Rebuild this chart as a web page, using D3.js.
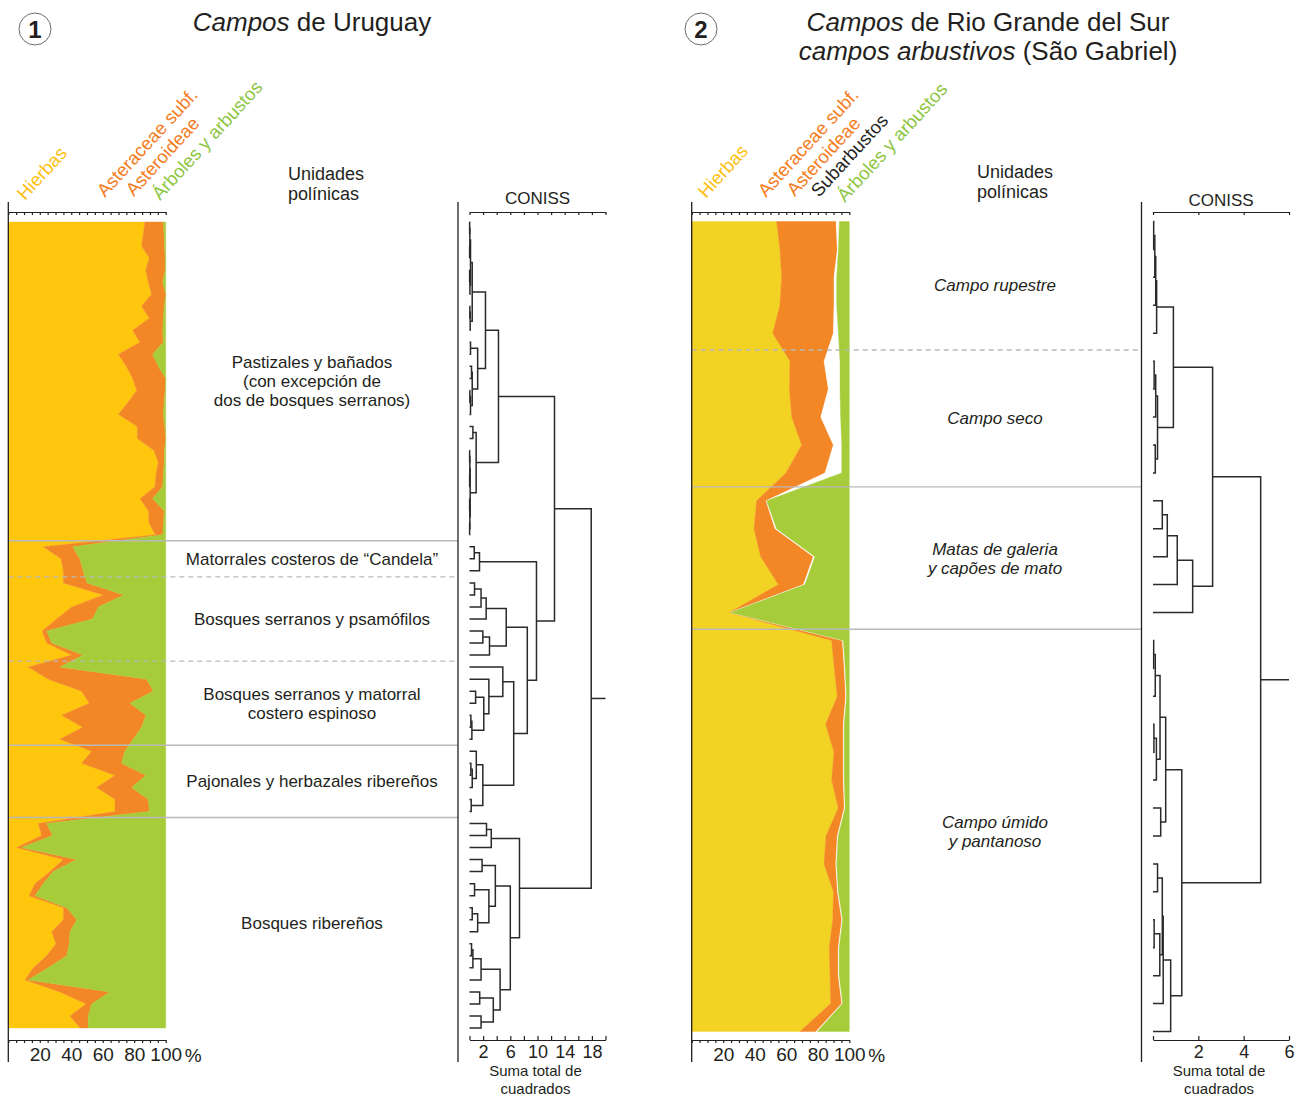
<!DOCTYPE html>
<html>
<head>
<meta charset="utf-8">
<script src="https://cdn.jsdelivr.net/npm/d3@7/dist/d3.min.js"></script>
<style>
html,body{margin:0;padding:0;background:#fff;}
svg text{font-family:"Liberation Sans",Arial,Helvetica,sans-serif;fill:#231f20;}
</style>
</head>
<body>
<svg id="chart" width="1304" height="1096"></svg>
<script>
// ================= DATA =================
// Panel 1 – Campos de Uruguay : 68 samples (top -> bottom), percentages
const uyHierbas = [86.8,85.8,84.7,89.6,87.3,89.0,91.0,84.7,89.6,79.0,83.7,70.0,75.0,79.0,81.6,76.0,70.0,82.0,82.0,92.6,95.3,93.8,93.2,83.7,89.0,89.4,93.4,
  22.3,33.5,35.0, 35.0,60.4,40.3,30.7,21.5,24.4,40.3, 12.7,25.4,46.6,51.5,33.9,47.3,32.8, 53.0,46.6,67.8,56.2,67.8,67.8,
  19.1,21.2,5.3,35.0,26.5,17.0,13.3,35.0,35.0,27.6,30.3,24.4,15.9,10.6,32.8,49.4,39.2,45.6];
const uyAsteroideae = [11.7,13.1,14.6,10.0,12.3,9.1,9.0,14.3,8.9,19.1,14.8,21.7,20.3,21.0,18.0,23.0,28.5,17.4,18.0,6.6,3.7,4.7,4.9,8.0,10.0,9.3,4.7,
  18.6,12.0,12.6, 15.0,13.1,16.9,22.9,2.9,3.2,7.3, 20.1,62.5,45.5,25.8,53.6,37.4,46.6, 21.1,25.4,19.7,22.2,21.2,21.8,
  5.3,7.0,3.2,8.5,2.1,5.2,3.7,2.1,8.5,11.6,8.5,12.7,9.5,2.1,31.8,3.6,11.6,5.2];
const uyArboles = [1.5,1.1,0.7,0.4,0.4,1.9,0.0,1.0,1.5,1.9,1.5,8.3,4.7,0.0,0.4,1.0,1.5,0.6,0.0,0.8,1.0,1.5,1.9,8.3,1.0,1.3,1.9,
  59.1,54.5,52.4, 50.0,26.5,42.8,46.4,75.6,72.4,52.4, 67.2,12.1,7.9,22.7,12.5,15.3,20.6, 25.9,28.0,12.5,21.6,11.0,10.4,
  75.6,71.8,91.5,56.5,71.4,77.8,83.0,62.9,56.5,60.8,61.2,62.9,74.6,87.3,35.4,47.0,49.2,49.2];
const uyZoneLabels = [
  ["Pastizales y bañados","(con excepción de","dos de bosques serranos)"],
  ["Matorrales costeros de “Candela”"],
  ["Bosques serranos y psamófilos"],
  ["Bosques serranos y matorral","costero espinoso"],
  ["Pajonales y herbazales ribereños"],
  ["Bosques ribereños"]
];
const uyBreaks = [26.5, 29.5, 36.5, 43.5, 49.5];          // sample positions of zone limits
const uyBreakDashed = [false, true, true, false, false];
// CONISS tree: [height, left, right]; leaves = sample index
const uyConiss = [17.9,
  [12.5,
    [4.26,
      [2.35,
        [0.4, [0.15, [0.05, [0.02, 0, 1], [0.02, 2, 3]], [0.06, [0.02, 4, 5], 6]], [0.1, [0.05, 7, 8], 9]],
        [1.2, [0.15, 10, 11], [0.4, [0.3, 12, 13], [0.15, [0.05, 14, 15], 16]]]
      ],
      [0.98, [0.5, 17, 18], [0.1, [0.05, [0.02, 19, 20], [0.02, 21, 22]], [0.05, [0.02, 23, 24], [0.02, 25, 26]]]]
    ],
    [9.85,
      [1.47, [0.7, 27, 28], 29],
      [8.5,
        [5.4, [2.45, [1.7, [0.74, 30, 31], 32], 33], [2.94, [1.96, 34, 35], 36]],
        [6.5,
          [4.9, 37, [2.85, 38, [2.1, [0.9, 39, 40], [0.35, [0.2, 41, 42], 43]]]],
          [1.96, [1.0, 44, [0.4, [0.2, 45, 46], 47]], [0.25, 48, 49]]
        ]
      ]
    ]
  ],
  [7.35,
    [3.2, [2.5, 50, 51], 52],
    [6.0,
      [3.8, [1.85, 53, 54], [2.85, [0.74, 55, 56], [1.2, [0.4, 57, 58], 59]]],
      [4.5, [1.7, [0.5, [0.3, 60, 61], 62], 63], [3.5, [1.5, 64, 65], [1.7, 66, 67]]]
    ]
  ]
];
const uyPctTicks = [20, 40, 60, 80, 100];
const uyConissTicks = [2, 6, 10, 14, 18];

// Panel 2 – Campos de Rio Grande del Sur : 30 samples
const rsHierbas = [53.9,56.0,57.1,56.0,51.4,62.4,62.0,63.5,69.8,59.8,41.2,39.5,43.8,55.0,23.9,
  88.8,90.5,92.4,85.0,90.3,88.8,93.0,85.2,84.0,90.0,89.5,87.3,87.8,88.2,68.7];
const rsAsteroideae = [37.7,36.4,33.2,34.3,38.5,21.6,24.7,18.4,20.1,24.8,6.0,13.4,33.4,15.9,0.3,
  6.8,6.3,5.3,11.2,5.9,7.4,3.8,7.2,7.4,2.5,5.7,5.7,5.2,7.0,10.2];
const rsSubarbustos = [2.1,0.7,1.7,1.7,3.2,10.1,7.4,12.6,5.3,10.6,0.4,1.0,1.0,1.0,0.3,
  0.6,0.6,0.6,0.6,0.6,0.6,0.6,0.6,0.6,0.6,0.6,0.6,0.6,0.6,0.8];
const rsArboles = [6.3,6.9,8.0,8.0,6.9,5.9,5.9,5.5,4.8,4.8,52.4,46.1,21.8,28.1,75.5,
  3.8,2.6,1.7,3.2,3.2,3.2,2.6,7.0,8.0,6.9,4.2,6.4,6.4,4.2,20.3];
const rsZoneLabels = [
  ["Campo rupestre"],
  ["Campo seco"],
  ["Matas de galeria","y capões de mato"],
  ["Campo úmido","y pantanoso"]
];
const rsBreaks = [4.6, 9.5, 14.6];
const rsBreakDashed = [true, false, false];
const rsConiss = [4.75,
  [2.63,
    [0.9,
      [0.16, [0.12, [0.08, [0.03, 0, 1], 2], 3], 4],
      [0.2, [0.12, [0.05, 5, 6], 7], [0.1, 8, 9]]
    ],
    [1.75, [1.07, [0.63, [0.41, 10, 11], 12], 13], 14]
  ],
  [1.27,
    [0.56,
      [0.31, [0.1, [0.03, 15, 16], 17], [0.15, [0.04, 18, 19], 20]],
      [0.34, 21, 22]
    ],
    [0.78, [0.45, [0.41, [0.2, 23, 24], [0.3, [0.05, 25, 26], 27]], 28], 29]
  ]
];
const rsPctTicks = [20, 40, 60, 80, 100];
const rsConissTicks = [2, 4, 6];

// ================= DRAWING =================
const svg = d3.select("#chart");
const INK = "#231f20";
const ORANGE = "#f38726", GREEN = "#a6cc3a";

function stackArea(g, keys, series, colors, x, y) {
  const rows = series[0].map((_, i) => {
    const o = {}; keys.forEach((k, j) => o[k] = series[j][i]); return o;
  });
  const layers = d3.stack().keys(keys)(rows);
  const area = d3.area()
    .y((d, i) => y(i))
    .x0(d => x(d[0]))
    .x1(d => x(Math.min(100, d[1])));
  layers.forEach((L, j) => {
    g.append("path").datum(L).attr("d", area)
      .attr("fill", colors[j]).attr("stroke", colors[j]).attr("stroke-width", 0.4);
  });
}

function drawTree(g, node, x, y) {
  if (!Array.isArray(node)) return { y: y(node), h: 0 };
  const [h, l, r] = node;
  const a = drawTree(g, l, x, y), b = drawTree(g, r, x, y);
  g.append("path")
    .attr("d", `M${x(a.h)},${a.y}H${x(h)}V${b.y}H${x(b.h)}`)
    .attr("fill", "none").attr("stroke", "#2a2a2a").attr("stroke-width", 1.5);
  return { y: (a.y + b.y) / 2, h };
}

function rotLabel(x, y, lines, color) {
  const g = svg.append("g").attr("transform", `translate(${x},${y}) rotate(-47.5)`);
  const t0 = g.append("text").attr("x", 0).attr("y", 0).attr("font-size", 18.5)
    .style("fill", color).text(lines[0]);
  const L = t0.node().getComputedTextLength();
  for (let i = 1; i < lines.length; i++) {
    g.append("text").attr("x", L / 2).attr("y", i * 20.5).attr("text-anchor", "middle")
      .attr("font-size", 18.5).style("fill", color).text(lines[i]);
  }
}

function styleAxis(sel, fs) {
  sel.attr("color", INK);
  sel.selectAll("path,line").attr("stroke", INK).attr("stroke-width", 1.2);
  sel.selectAll("text").attr("font-size", fs).style("fill", INK)
    .attr("font-family", '"Liberation Sans",Arial,sans-serif');
}

function panel(cfg) {
  const x = d3.scaleLinear().domain([0, 100]).range(cfg.xr);
  const n = cfg.series[0].length;
  const y = d3.scaleLinear().domain([0, n - 1]).range(cfg.yr);
  const dx = d3.scaleLinear().domain(cfg.dDomain).range(cfg.dxr);

  // stacked percentage diagram
  stackArea(svg.append("g"), cfg.keys, cfg.series, cfg.colors, x, y);

  // zone limits
  cfg.breaks.forEach((b, i) => {
    svg.append("line").attr("x1", cfg.xr[0]).attr("x2", cfg.axisX)
      .attr("y1", y(b)).attr("y2", y(b))
      .attr("stroke", "#b9b9b9").attr("stroke-width", 1.4)
      .attr("stroke-dasharray", cfg.dashed[i] ? "5,4" : null);
  });

  // vertical axes
  [cfg.xr[0], cfg.axisX].forEach(vx => {
    svg.append("line").attr("x1", vx).attr("x2", vx).attr("y1", 202).attr("y2", 1062)
      .attr("stroke", INK).attr("stroke-width", 1.3);
  });

  // percent axes
  const pTicks = d3.range(0, 101, 5);
  styleAxis(svg.append("g").attr("transform", "translate(0,212)")
    .call(d3.axisBottom(x).tickValues(pTicks).tickSize(3).tickSizeOuter(0).tickFormat("")), 19);
  styleAxis(svg.append("g").attr("transform", "translate(0,1040)")
    .call(d3.axisBottom(x).tickValues(pTicks).tickSize(3).tickSizeOuter(0).tickPadding(5)
      .tickFormat(d => cfg.pctLabels.includes(d) ? d : "")), 19);
  svg.append("text").attr("x", x(100) + 19).attr("y", 1062).attr("font-size", 19).text("%");

  // CONISS axes
  const cTicks = d3.range(0, cfg.dDomain[1] + 0.001, 2);
  styleAxis(svg.append("g").attr("transform", "translate(0,212)")
    .call(d3.axisBottom(dx).tickValues(cTicks).tickSize(3).tickSizeOuter(0).tickFormat("")), 18);
  styleAxis(svg.append("g").attr("transform", "translate(0,1040)")
    .call(d3.axisBottom(dx).tickValues(cTicks).tickSizeInner(-4).tickSizeOuter(0).tickPadding(5)
      .tickFormat(d => cfg.conissLabels.includes(d) ? d : "")), 18);

  // dendrogram
  const tg = svg.append("g");
  const root = drawTree(tg, cfg.tree, dx, y);
  tg.append("line").attr("x1", dx(root.h)).attr("x2", dx.range()[1])
    .attr("y1", root.y).attr("y2", root.y).attr("stroke", "#2a2a2a").attr("stroke-width", 1.5);

  svg.append("text").attr("x", (dx.range()[0] + dx.range()[1]) / 2).attr("y", cfg.conissY)
    .attr("text-anchor", "middle").attr("font-size", 17).text("CONISS");
  const mid = (dx.range()[0] + dx.range()[1]) / 2 - 2;
  svg.append("text").attr("x", mid).attr("y", 1076).attr("text-anchor", "middle")
    .attr("font-size", 15).text("Suma total de");
  svg.append("text").attr("x", mid).attr("y", 1094).attr("text-anchor", "middle")
    .attr("font-size", 15).text("cuadrados");

  // zone labels, centred between zone limits
  const edges = [-0.05, ...cfg.breaks, n - 1 + 0.05];
  cfg.zoneLabels.forEach((lines, i) => {
    const cy = (y(edges[i]) + y(edges[i + 1])) / 2;
    const t = svg.append("text").attr("text-anchor", "middle").attr("font-size", 17)
      .attr("font-style", cfg.italicZones ? "italic" : null);
    lines.forEach((s, j) => {
      t.append("tspan").attr("x", cfg.zoneX)
        .attr("y", cy + 6 + (j - (lines.length - 1) / 2) * 19).text(s);
    });
  });

  // "Unidades polínicas"
  svg.append("text").attr("x", cfg.unidX).attr("y", cfg.unidY).attr("font-size", 18).text("Unidades");
  svg.append("text").attr("x", cfg.unidX).attr("y", cfg.unidY + 20).attr("font-size", 18).text("polínicas");

  // circled number
  svg.append("circle").attr("cx", cfg.circ[0]).attr("cy", cfg.circ[1]).attr("r", 16)
    .attr("fill", "none").attr("stroke", "#6d6d6d").attr("stroke-width", 1);
  svg.append("text").attr("x", cfg.circ[0]).attr("y", cfg.circ[1] + 8.5).attr("text-anchor", "middle")
    .attr("font-size", 24).attr("font-weight", "bold").text(cfg.num);
}

panel({
  keys: ["h", "a", "t"],
  series: [uyHierbas, uyAsteroideae, uyArboles],
  colors: ["#fec70e", ORANGE, GREEN],
  xr: [8.3, 165.7], yr: [222, 1028],
  dDomain: [0, 20], dxr: [469.5, 605.5], axisX: 458,
  tree: uyConiss, breaks: uyBreaks, dashed: uyBreakDashed,
  pctLabels: uyPctTicks, conissLabels: uyConissTicks,
  zoneLabels: uyZoneLabels, zoneX: 312, italicZones: false,
  unidX: 288, unidY: 180, conissY: 204, circ: [35, 29], num: "1"
});

panel({
  keys: ["h", "a", "s", "t"],
  series: [rsHierbas, rsAsteroideae, rsSubarbustos, rsArboles],
  colors: ["#f2d323", ORANGE, "#ffffff", GREEN],
  xr: [691.7, 849.3], yr: [221.5, 1031.5],
  dDomain: [0, 6], dxr: [1153, 1289], axisX: 1141.5,
  tree: rsConiss, breaks: rsBreaks, dashed: rsBreakDashed,
  pctLabels: rsPctTicks, conissLabels: rsConissTicks,
  zoneLabels: rsZoneLabels, zoneX: 995, italicZones: true,
  unidX: 977, unidY: 178, conissY: 206, circ: [701, 29], num: "2"
});

// titles
const t1 = svg.append("text").attr("x", 312).attr("y", 31).attr("text-anchor", "middle").attr("font-size", 26);
t1.append("tspan").attr("font-style", "italic").text("Campos");
t1.append("tspan").text(" de Uruguay");
const t2 = svg.append("text").attr("x", 988).attr("y", 31).attr("text-anchor", "middle").attr("font-size", 26);
t2.append("tspan").attr("font-style", "italic").text("Campos");
t2.append("tspan").text(" de Rio Grande del Sur");
const t3 = svg.append("text").attr("x", 988).attr("y", 60).attr("text-anchor", "middle").attr("font-size", 26);
t3.append("tspan").attr("font-style", "italic").text("campos arbustivos");
t3.append("tspan").text(" (São Gabriel)");

// rotated column headers
const YEL_T = "#fdc010", ORA_T = "#f47c20", GRN_T = "#8dc63f";
rotLabel(25, 201, ["Hierbas"], YEL_T);
rotLabel(105, 198, ["Asteraceae subf.", "Asteroideae"], ORA_T);
rotLabel(160, 201, ["Árboles y arbustos"], GRN_T);
rotLabel(706, 199, ["Hierbas"], YEL_T);
rotLabel(766, 198, ["Asteraceae subf.", "Asteroideae"], ORA_T);
rotLabel(819, 198, ["Subarbustos"], INK);
rotLabel(845, 203, ["Árboles y arbustos"], GRN_T);
</script>
</body>
</html>
